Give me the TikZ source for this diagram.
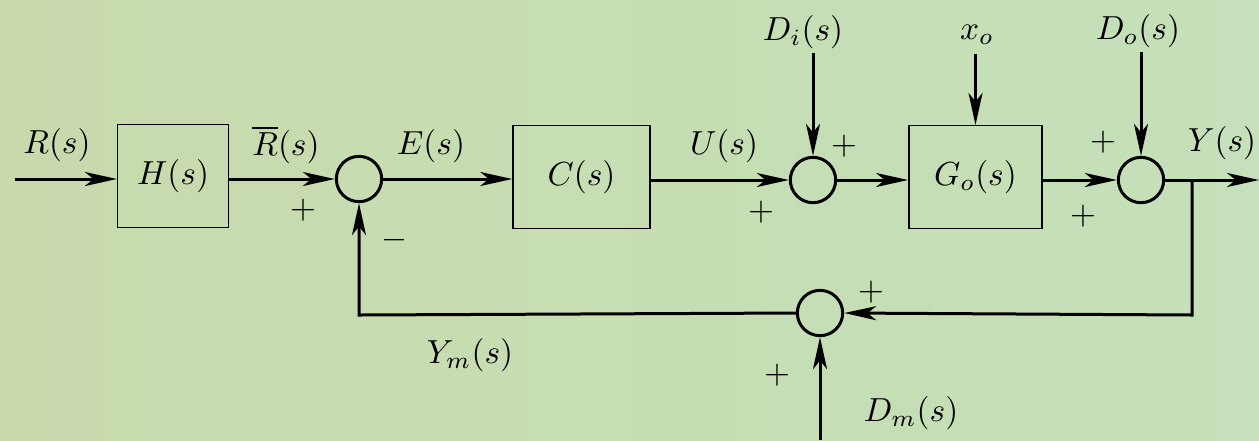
\documentclass[tikz,border=0pt]{standalone}
\usetikzlibrary{arrows.meta}
\definecolor{bgL}{HTML}{C8DAAC}
\definecolor{bgM}{HTML}{BCDFCA}
\definecolor{bgR}{HTML}{C5E0BA}
\begin{document}
\begin{tikzpicture}[x=0.3pt,y=-0.3pt,
  sig/.style={line width=0.9pt},
  arr/.style={sig,-{Stealth[length=9.6pt,width=4.2pt,inset=2.6pt]}},
  blk/.style={draw,line width=0.45pt,minimum width=33.2pt,minimum height=30.8pt,inner sep=0pt},
  sumnode/.style={draw,circle,line width=0.9pt,minimum size=13.6pt,inner sep=0pt},
  lbl/.style={inner sep=0pt}]
\shade[left color=bgL,middle color=bgM,right color=bgR] (0,0) rectangle (1259,440);
\useasboundingbox (0,0) rectangle (1259,440);
% blocks
\node[blk] (H) at (173,176) {$H(s)$};
\node[blk,minimum width=41.1pt] (C) at (581.5,177) {$C(s)$};
\node[blk,minimum width=40pt] (G) at (975.5,177) {$G_o(s)$};
% summing junctions
\node[sumnode] (S1) at (359,179) {};
\node[sumnode] (S2) at (813,180) {};
\node[sumnode] (S3) at (1141,180) {};
\node[sumnode] (S4) at (820,313) {};
% free ends
\coordinate (in) at (15,179);
\coordinate (out) at (1259,180);
\coordinate (Di) at (813,53);
\coordinate (xo) at (975.5,54);
\coordinate (Do) at (1141,52);
\coordinate (Dm) at (820,440);
\coordinate (br) at (1192,180);
\coordinate (brd) at (1192,315);
\coordinate (fbl) at (359,315);
% labels
\node[lbl] (lR) at (57,145) {$R(s)$};
\node[lbl] (lRb) at (286,145) {$\overline{R}(s)$};
\node[lbl] (lE) at (431,146) {$E(s)$};
\node[lbl] (lU) at (724,146) {$U(s)$};
\node[lbl] (lY) at (1222,143) {$Y(s)$};
\node[lbl] (lDi) at (803,32) {$D_i(s)$};
\node[lbl] (lxo) at (977,35) {$x_o$};
\node[lbl] (lDo) at (1138,31) {$D_o(s)$};
\node[lbl] (lYm) at (470,355) {$Y_m(s)$};
\node[lbl] (lDm) at (911,413) {$D_m(s)$};
\node[lbl] (p1) at (303,210) {$+$};
\node[lbl] (m1) at (394,240) {$-$};
\node[lbl] (p2a) at (761,212) {$+$};
\node[lbl] (p2b) at (844,146) {$+$};
\node[lbl] (p3a) at (1103,142) {$+$};
\node[lbl] (p3b) at (1083,216) {$+$};
\node[lbl] (p4a) at (871,292) {$+$};
\node[lbl] (p4b) at (777,375) {$+$};
% connectors
\draw[arr] (in) -- (H.west |- in);
\draw[arr] (H.east |- S1) -- (S1.west);
\draw[arr] (S1.east) -- (C.west |- S1);
\draw[arr] (C.east |- S2) -- (S2.west);
\draw[arr] (S2.east) -- (G.west |- S2);
\draw[arr] (G.east |- S3) -- (S3.west);
\draw[arr] (S3.east) -- (out);
\draw[arr] (Di) -- (S2.north);
\draw[arr] (xo) -- (G.north);
\draw[arr] (Do) -- (S3.north);
\draw[arr] (br) -- (brd) -- (S4.east);
\draw[arr] (S4.west) -- (fbl) -- (S1.south);
\draw[arr] (Dm) -- (S4.south);
\end{tikzpicture}
\end{document}
